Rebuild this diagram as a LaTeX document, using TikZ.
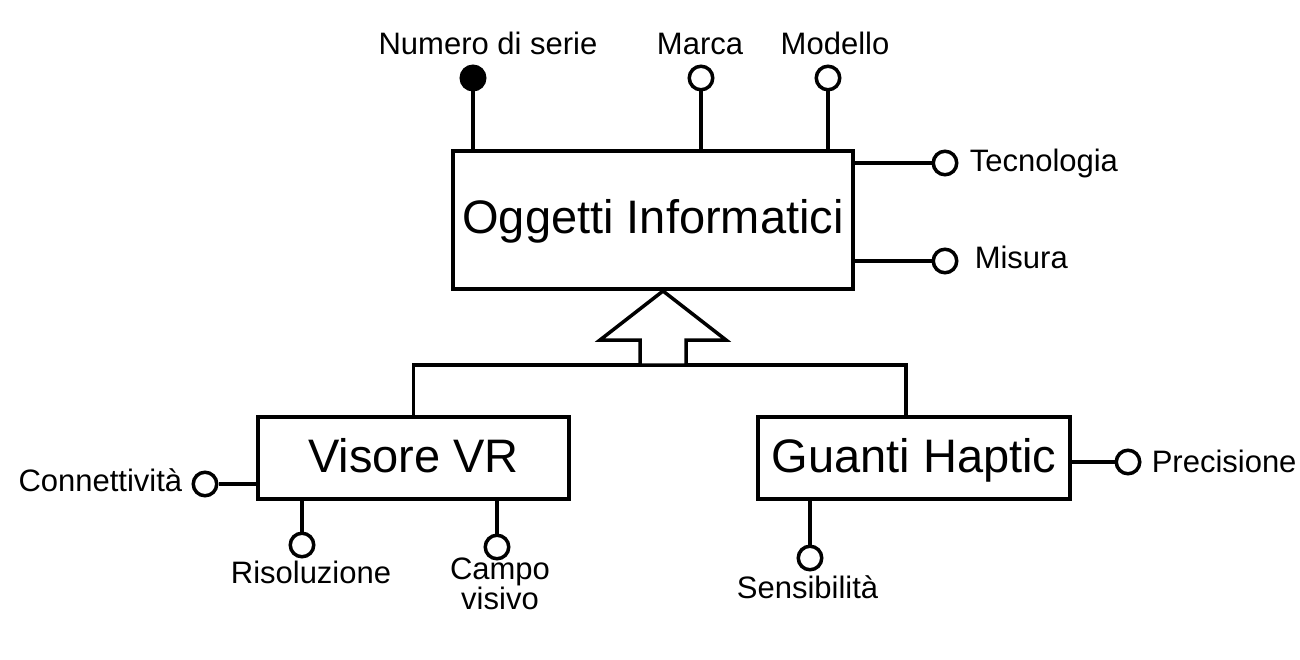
\documentclass[tikz,border=0pt]{standalone}
\usepackage{fontspec}
\setmainfont{Liberation Sans}

\begin{document}
\begin{tikzpicture}[x=1pt, y=-1pt, line width=3.5pt,
	entity/.style={draw, line width=4pt, inner sep=0pt, text height=36pt, text depth=8pt, font=\fontsize{47}{56}\selectfont},
	attr/.style={circle, draw, fill=white, minimum size=23.5pt, inner sep=0pt},
	keyattr/.style={attr, fill=black},
	lbl/.style={inner sep=0pt, font=\fontsize{31}{27}\selectfont}]
\useasboundingbox (0,0) rectangle (1300,660);
\node[entity, minimum width=400pt, minimum height=138pt] (oggetti) at (653,220) {Oggetti Informatici};
\node[entity, minimum width=311pt, minimum height=82pt] (visore) at (413.5,458) {Visore VR};
\node[entity, minimum width=312pt, minimum height=82pt] (guanti) at (914,458) {Guanti Haptic};

\node[keyattr] (numero) at (473,78) {};
\node[attr] (marca) at (701,78) {};
\node[attr] (modello) at (828,78) {};
\node[attr] (tecnologia) at (945,163) {};
\node[attr] (misura) at (945,261) {};
\node[attr] (connettivita) at (205,484) {};
\node[attr] (risoluzione) at (302,545) {};
\node[attr] (campo) at (497,547) {};
\node[attr] (precisione) at (1128,462) {};
\node[attr] (sensibilita) at (810,558) {};

\node[lbl, anchor=base] (lnumero) at (488,55) {Numero di serie};
\node[lbl, anchor=base] (lmarca) at (700,55) {Marca};
\node[lbl, anchor=base] (lmodello) at (835,55) {Modello};
\node[lbl, anchor=base west] (ltecnologia) at (968,172) {Tecnologia};
\node[lbl, anchor=base west] (lmisura) at (973,269) {Misura};
\node[lbl, anchor=base east] (lconnettivita) at (184,491) {Connettività};
\node[lbl, anchor=base] (lrisoluzione) at (311,583) {Risoluzione};
\node[lbl, anchor=north, align=center] (lcampo) at (500,556) {Campo\\visivo};
\node[lbl, anchor=base west] (lprecisione) at (1150,472) {Precisione};
\node[lbl, anchor=base] (lsensibilita) at (807.5,598) {Sensibilità};

\draw (numero) -- (numero |- oggetti.north);
\draw (marca) -- (marca |- oggetti.north);
\draw (modello) -- (modello |- oggetti.north);
\draw (tecnologia) -- (tecnologia -| oggetti.east);
\draw (misura) -- (misura -| oggetti.east);
\draw (connettivita) -- (connettivita -| visore.west);
\draw (risoluzione) -- (risoluzione |- visore.south);
\draw (campo) -- (campo |- visore.south);
\draw (precisione) -- (precisione -| guanti.east);
\draw (sensibilita) -- (sensibilita |- guanti.south);

\coordinate (tip) at (663,291);
\coordinate (hub) at (663,365);
\draw (visore.north) |- (hub) -| ([xshift=-8pt]guanti.north);
\draw[fill=white] (tip) -- ++(63,49) -- ++(-40,0) -- ++(0,25) -- ++(-46,0) -- ++(0,-25) -- ++(-40,0) -- cycle;
\end{tikzpicture}
\end{document}
